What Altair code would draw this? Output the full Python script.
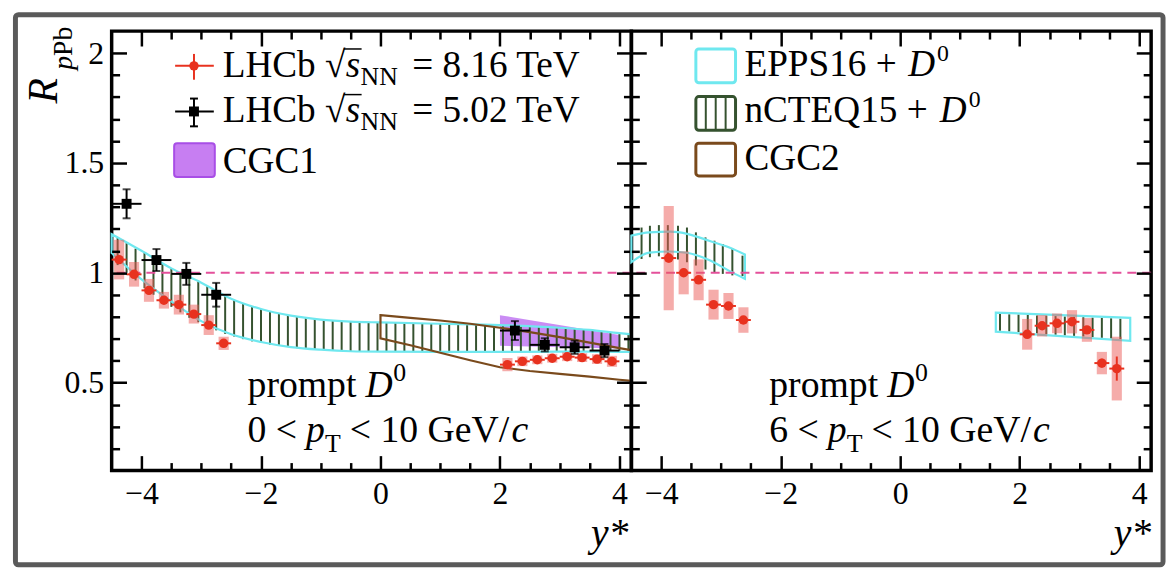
import altair as alt
import pandas as pd

FONT = "Liberation Serif"
XDOM = [-4.5, 4.2]
YDOM = [0.1, 2.1]
PW, PH = 524, 443

X_MAJOR = [-4, -2, 0, 2, 4]
X_MINOR = [-3.5, -3, -2.5, -1.5, -1, -0.5, 0.5, 1, 1.5, 2.5, 3, 3.5]
Y_MAJOR = [0.5, 1, 1.5, 2]
Y_MINOR = [0.2, 0.3, 0.4, 0.6, 0.7, 0.8, 0.9, 1.1, 1.2, 1.3, 1.4, 1.6, 1.7, 1.8, 1.9]

RED = "#e8321f"
BOX = "#ec5a55"
CYAN = "#6fe8ef"
GREEN = "#35522f"
BROWN = "#7a4a1c"
PURPLE = "#b866f0"
PINK = "#e4509b"
FRAME = "#5a5a5a"

RED_HALF = 0.125     # half bin width of 8.16 TeV points
BLK_HALF = 0.25      # half bin width of 5.02 TeV points

# ---------------- panel A : 0 < pT < 10 GeV/c ----------------
A_red_x = [-4.375, -4.125, -3.875, -3.625, -3.375, -3.125, -2.875, -2.625,
           2.125, 2.375, 2.625, 2.875, 3.125, 3.375, 3.625, 3.875]
A_red_y = [1.060, 0.993, 0.920, 0.875, 0.855, 0.812, 0.762, 0.679,
           0.582, 0.597, 0.604, 0.611, 0.618, 0.614, 0.607, 0.597]
A_red_sys = [0.090, 0.056, 0.052, 0.038, 0.045, 0.043, 0.045, 0.030,
             0.030, 0.022, 0.020, 0.020, 0.020, 0.020, 0.022, 0.025]
A_red_stat = [0.015, 0.012, 0.012, 0.012, 0.012, 0.012, 0.012, 0.012,
              0.010, 0.010, 0.010, 0.010, 0.010, 0.010, 0.010, 0.010]
A_blk_x = [-4.25, -3.75, -3.25, -2.75, 2.25, 2.75, 3.25, 3.75]
A_blk_y = [1.314, 1.058, 0.995, 0.900, 0.737, 0.672, 0.661, 0.646]
A_blk_err = [0.066, 0.050, 0.050, 0.054, 0.043, 0.030, 0.030, 0.030]

A_epps_x = [-4.5, -4.0, -3.5, -3.0, -2.5, -2.0, -1.5, -1.0, -0.5, 0.0, 1.0, 2.0, 3.0, 3.5, 4.0, 4.2]
A_epps_hi = [1.176, 1.100, 1.020, 0.955, 0.882, 0.835, 0.805, 0.787, 0.778, 0.774, 0.768, 0.762, 0.750, 0.740, 0.725, 0.720]
A_epps_lo = [1.090, 0.970, 0.870, 0.780, 0.720, 0.685, 0.662, 0.650, 0.643, 0.641, 0.640, 0.640, 0.641, 0.641, 0.640, 0.640]

A_ncteq_x = [-4.4, -4.25, -4.1, -3.95, -3.8, -3.65, -3.5, -3.35, -3.2, -3.05,
             -2.9, -2.75, -2.6, -2.45, -2.3, -2.15, -2.0, -1.85, -1.7, -1.55,
             -1.4, -1.25, -1.1, -0.95, -0.8, -0.65, -0.5, -0.35, -0.2, -0.05,
             0.1, 0.25, 0.4, 0.55, 0.7, 0.85, 1.0, 1.15, 1.3, 1.45,
             1.6, 1.75, 1.9, 2.05, 2.2, 2.35, 2.5, 2.65, 2.8, 2.95,
             3.1, 3.25, 3.4, 3.55, 3.7, 3.85, 4.0, 4.15]
A_ncteq_hi = [1.160, 1.135, 1.110, 1.090, 1.065, 1.040, 1.020, 1.000, 0.980, 0.960,
              0.940, 0.918, 0.895, 0.877, 0.862, 0.848, 0.835, 0.825, 0.816, 0.808,
              0.801, 0.795, 0.790, 0.786, 0.783, 0.780, 0.778, 0.777, 0.775, 0.774,
              0.773, 0.772, 0.772, 0.771, 0.770, 0.770, 0.769, 0.768, 0.767, 0.766,
              0.765, 0.764, 0.763, 0.762, 0.760, 0.758, 0.756, 0.754, 0.752, 0.750,
              0.748, 0.745, 0.742, 0.739, 0.735, 0.730, 0.725, 0.721]
A_ncteq_lo = [1.035, 1.000, 0.965, 0.930, 0.900, 0.870, 0.845, 0.820, 0.795, 0.775,
              0.755, 0.738, 0.722, 0.710, 0.698, 0.688, 0.680, 0.673, 0.667, 0.662,
              0.657, 0.653, 0.650, 0.648, 0.646, 0.644, 0.643, 0.642, 0.642, 0.641,
              0.641, 0.640, 0.640, 0.640, 0.640, 0.640, 0.640, 0.640, 0.640, 0.640,
              0.640, 0.640, 0.640, 0.640, 0.640, 0.640, 0.640, 0.640, 0.640, 0.640,
              0.640, 0.640, 0.640, 0.640, 0.640, 0.640, 0.640, 0.640]

A_cgc1_x = [2.0, 4.0]
A_cgc1_hi = [0.807, 0.717]
A_cgc1_lo = [0.668, 0.655]

A_cgc2_x = [0.0, 0.5, 1.0, 1.5, 2.0, 2.5, 3.0, 3.5, 4.0, 4.2]
A_cgc2_hi = [0.807, 0.795, 0.783, 0.768, 0.750, 0.730, 0.707, 0.682, 0.657, 0.648]
A_cgc2_lo = [0.702, 0.670, 0.636, 0.602, 0.570, 0.553, 0.540, 0.527, 0.513, 0.508]

# ---------------- panel B : 6 < pT < 10 GeV/c ----------------
B_red_x = [-3.875, -3.625, -3.375, -3.125, -2.875, -2.625,
           2.125, 2.375, 2.625, 2.875, 3.125, 3.375, 3.625]
B_red_y = [1.067, 1.000, 0.968, 0.855, 0.849, 0.785,
           0.720, 0.759, 0.770, 0.777, 0.740, 0.589, 0.564]
B_red_sys = [0.237, 0.098, 0.093, 0.068, 0.059, 0.058,
             0.070, 0.049, 0.045, 0.053, 0.054, 0.051, 0.145]
B_red_stat = [0.020, 0.015, 0.015, 0.015, 0.015, 0.015,
              0.015, 0.012, 0.012, 0.012, 0.015, 0.020, 0.055]

B_epps_bwd_x = [-4.5, -4.2, -3.85, -3.55, -3.2, -2.87, -2.6]
B_epps_bwd_hi = [1.169, 1.184, 1.187, 1.176, 1.146, 1.116, 1.083]
B_epps_bwd_lo = [1.048, 1.092, 1.097, 1.090, 1.058, 1.010, 0.973]
B_epps_fwd_x = [1.6, 3.85]
B_epps_fwd_hi = [0.819, 0.795]
B_epps_fwd_lo = [0.732, 0.690]

B_ncteq_x = [-4.33, -4.19, -4.04, -3.89, -3.72, -3.57, -3.42, -3.26, -3.11, -2.97, -2.81, -2.64,
             1.67, 1.825, 1.98, 2.135, 2.29, 2.445, 2.6, 2.755, 2.91, 3.065, 3.22, 3.375, 3.53, 3.685]
B_ncteq_hi = [1.206, 1.214, 1.217, 1.217, 1.214, 1.206, 1.184, 1.161, 1.146, 1.131, 1.111, 1.078,
              0.813, 0.811, 0.810, 0.808, 0.806, 0.805, 0.803, 0.801, 0.800, 0.798, 0.796, 0.795, 0.793, 0.791]
B_ncteq_lo = [1.063, 1.071, 1.075, 1.071, 1.060, 1.048, 1.033, 1.015, 1.003, 0.995, 0.988, 0.985,
              0.736, 0.733, 0.730, 0.727, 0.724, 0.721, 0.718, 0.715, 0.713, 0.710, 0.707, 0.704, 0.701, 0.698]

REF_LINE = [1.0]

XS = alt.Scale(domain=XDOM, nice=False, zero=False)
YS = alt.Scale(domain=YDOM, nice=False, zero=False)
one = pd.DataFrame({"a": [0]})


def X(f):
    return alt.X(f, type="quantitative", scale=XS, axis=None)


def Y(f):
    return alt.Y(f, type="quantitative", scale=YS, axis=None)


def axis_layers(ylabels):
    d = pd.DataFrame({"x": XDOM, "y": YDOM})
    common = dict(grid=False, domain=False, title=None, tickColor="black", tickWidth=2.5,
                  labelFont=FONT, labelColor="black", labelFontSize=32, format="~g",
                  labelPadding=8, zindex=1)
    out = []
    for ox, oy, vx, vy, ts, lx, ly in [
        ("bottom", "left", X_MAJOR, Y_MAJOR, 15, True, ylabels),
        ("bottom", "left", X_MINOR, Y_MINOR, 8, False, False),
        ("top", "right", X_MAJOR, Y_MAJOR, 15, False, False),
        ("top", "right", X_MINOR, Y_MINOR, 8, False, False),
    ]:
        ax = alt.Axis(orient=ox, values=vx, tickSize=ts, offset=-ts, labels=lx, **common)
        ay = alt.Axis(orient=oy, values=vy, tickSize=ts, offset=-ts, labels=ly, **common)
        out.append(alt.Chart(d).mark_point(opacity=0).encode(
            x=alt.X("x:Q", scale=XS, axis=ax), y=alt.Y("y:Q", scale=YS, axis=ay)))
    return out


def txt(x, y, s, size, italic=False, align="left", angle=0):
    kw = dict(text=s, font=FONT, fontSize=size, align=align, baseline="alphabetic", color="black")
    if italic:
        kw["fontStyle"] = "italic"
    if angle:
        kw["angle"] = angle
    return alt.Chart(one).mark_text(**kw).encode(x=alt.value(x), y=alt.value(y))


def prule(x1, x2, y1, y2, color, w=2.0):
    return alt.Chart(one).mark_rule(color=color, strokeWidth=w).encode(
        x=alt.value(x1), x2=alt.value(x2), y=alt.value(y1), y2=alt.value(y2))


def pbox(x1, x2, y1, y2, stroke, fill=None, w=3):
    kw = dict(stroke=stroke, strokeWidth=w, cornerRadius=3)
    if fill:
        kw["fill"] = fill
    else:
        kw["fillOpacity"] = 0
    return alt.Chart(one).mark_rect(**kw).encode(
        x=alt.value(x1), x2=alt.value(x2), y=alt.value(y1), y2=alt.value(y2))


def band_outline(xv, hi, lo, color, interp="monotone"):
    d = pd.DataFrame({"x": xv, "hi": hi, "lo": lo})
    return alt.Chart(d).mark_area(fillOpacity=0, stroke=color, strokeWidth=2.2, interpolate=interp).encode(
        x=X("x"), y=Y("hi"), y2="lo")


def hatch(xv, hi, lo):
    d = pd.DataFrame({"x": xv, "hi": hi, "lo": lo})
    return alt.Chart(d).mark_rule(color=GREEN, strokeWidth=2).encode(x=X("x"), y=Y("hi"), y2="lo")


def red_points(xv, yv, sys, stat):
    d = pd.DataFrame({"x": xv, "y": yv, "sys": sys, "stat": stat})
    d["xl"] = d["x"] - 0.085
    d["xr"] = d["x"] + 0.085
    d["slo"] = d["y"] - d["sys"]
    d["shi"] = d["y"] + d["sys"]
    d["elo"] = d["y"] - d["stat"]
    d["ehi"] = d["y"] + d["stat"]
    d["bl"] = d["x"] - RED_HALF
    d["br"] = d["x"] + RED_HALF
    base = alt.Chart(d)
    return [
        base.mark_rect(color=BOX, opacity=0.5).encode(x=X("xl"), x2="xr", y=Y("slo"), y2="shi"),
        base.mark_rule(color=RED, strokeWidth=2).encode(x=X("bl"), x2="br", y=Y("y")),
        base.mark_rule(color=RED, strokeWidth=2).encode(x=X("x"), y=Y("elo"), y2="ehi"),
        base.mark_circle(color=RED, size=90, opacity=1).encode(x=X("x"), y=Y("y")),
    ]


def black_points(xv, yv, err):
    d = pd.DataFrame({"x": xv, "y": yv, "err": err})
    d["elo"] = d["y"] - d["err"]
    d["ehi"] = d["y"] + d["err"]
    d["bl"] = d["x"] - BLK_HALF
    d["br"] = d["x"] + BLK_HALF
    base = alt.Chart(d)
    return [
        base.mark_rule(color="black", strokeWidth=2).encode(x=X("bl"), x2="br", y=Y("y")),
        base.mark_rule(color="black", strokeWidth=2).encode(x=X("x"), y=Y("elo"), y2="ehi"),
        base.mark_tick(color="black", orient="horizontal", size=8, thickness=2).encode(x=X("x"), y=Y("elo")),
        base.mark_tick(color="black", orient="horizontal", size=8, thickness=2).encode(x=X("x"), y=Y("ehi")),
        base.mark_square(color="black", size=100, opacity=1).encode(x=X("x"), y=Y("y")),
    ]


def ref_line():
    d = pd.DataFrame({"y": REF_LINE})
    return alt.Chart(d).mark_rule(color=PINK, strokeDash=[9, 6], strokeWidth=2).encode(y=Y("y"))


LEG = 37.5
ANN = 38
SUB = 26

# ---------------- left panel ----------------
cgc1 = pd.DataFrame({"x": A_cgc1_x, "hi": A_cgc1_hi, "lo": A_cgc1_lo})
left_layers = []
left_layers += axis_layers(True)
left_layers.append(alt.Chart(cgc1).mark_area(color=PURPLE, opacity=0.75).encode(x=X("x"), y=Y("hi"), y2="lo"))
left_layers.append(hatch(A_ncteq_x, A_ncteq_hi, A_ncteq_lo))
left_layers.append(band_outline(A_epps_x, A_epps_hi, A_epps_lo, CYAN))
left_layers.append(band_outline(A_cgc2_x, A_cgc2_hi, A_cgc2_lo, BROWN, "linear"))
left_layers.append(ref_line())
left_layers += red_points(A_red_x, A_red_y, A_red_sys, A_red_stat)
left_layers += black_points(A_blk_x, A_blk_y, A_blk_err)

# legend (left)
left_layers += [
    prule(64, 103, 35, 35, RED), prule(83, 83, 23, 49, RED),
    alt.Chart(one).mark_circle(color=RED, size=90, opacity=1).encode(x=alt.value(83), y=alt.value(35)),
    prule(64, 103, 81, 81, "black"), prule(83, 83, 68, 96, "black"),
    prule(79, 87, 68, 68, "black"), prule(79, 87, 96, 96, "black"),
    alt.Chart(one).mark_square(color="black", size=100, opacity=1).encode(x=alt.value(83), y=alt.value(81)),
    pbox(63, 104, 113, 147, "#a84ee6", "#c77ef2", 2),
    txt(112, 46, "LHCb", LEG), txt(215, 46, "\u221a", LEG), txt(236, 46, "s", LEG, italic=True),
    prule(234, 252, 18, 18, "black", 1.5),
    txt(251, 54, "NN", SUB), txt(303, 46, "= 8.16 TeV", LEG),
    txt(112, 92, "LHCb", LEG), txt(215, 92, "\u221a", LEG), txt(236, 92, "s", LEG, italic=True),
    prule(234, 252, 64, 64, "black", 1.5),
    txt(251, 100, "NN", SUB), txt(303, 92, "= 5.02 TeV", LEG),
    txt(112, 143, "CGC1", LEG),
]
# annotation (left)
left_layers += [
    txt(137, 369, "prompt", ANN), txt(256, 369, "D", ANN, italic=True), txt(284, 353, "0", SUB),
    txt(137, 414, "0 <", ANN), txt(196, 414, "p", ANN, italic=True), txt(215, 424, "T", SUB),
    txt(240, 414, "< 10 GeV/", ANN), txt(403, 414, "c", ANN, italic=True),
    txt(-55, 73, "R", 42, italic=True, angle=270),
    txt(-40, 39, "p", 28, italic=True, angle=270),
    txt(-40, 25, "Pb", 28, angle=270),
    txt(521, 519, "y*", 40, italic=True, align="right"),
    pbox(-97, 1060, -16.5, 538, FRAME, None, 5),
]

left = alt.layer(*left_layers).resolve_scale(x="shared", y="shared").resolve_axis(
    x="independent", y="independent").properties(width=PW, height=PH)

# ---------------- right panel ----------------
right_layers = []
right_layers += axis_layers(False)
right_layers.append(hatch(B_ncteq_x, B_ncteq_hi, B_ncteq_lo))
right_layers.append(band_outline(B_epps_bwd_x, B_epps_bwd_hi, B_epps_bwd_lo, CYAN))
right_layers.append(band_outline(B_epps_fwd_x, B_epps_fwd_hi, B_epps_fwd_lo, CYAN, "linear"))
right_layers.append(ref_line())
right_layers += red_points(B_red_x, B_red_y, B_red_sys, B_red_stat)
right_layers += [
    pbox(65, 105, 18, 52, CYAN),
    pbox(65, 105, 66, 100, GREEN),
    prule(75, 75, 66, 100, GREEN), prule(85, 85, 66, 100, GREEN), prule(95, 95, 66, 100, GREEN),
    pbox(65, 105, 113, 146, BROWN),
    txt(114, 45, "EPPS16 +", LEG), txt(279, 45, "D", LEG, italic=True), txt(308, 30, "0", 24),
    txt(114, 92, "nCTEQ15 +", LEG), txt(311, 92, "D", LEG, italic=True), txt(340, 77, "0", 24),
    txt(114, 140, "CGC2", LEG),
    txt(139, 369, "prompt", ANN), txt(258, 369, "D", ANN, italic=True), txt(286, 353, "0", SUB),
    txt(139, 414, "6 <", ANN), txt(198, 414, "p", ANN, italic=True), txt(217, 424, "T", SUB),
    txt(242, 414, "< 10 GeV/", ANN), txt(405, 414, "c", ANN, italic=True),
    txt(524, 519, "y*", 40, italic=True, align="right"),
]
right = alt.layer(*right_layers).resolve_scale(x="shared", y="shared").resolve_axis(
    x="independent", y="independent").properties(width=PW, height=PH)

chart = alt.hconcat(left, right, spacing=0, bounds="flush").properties(
    padding={"left": 2.5, "top": 0, "right": 0, "bottom": 0},
    background="white",
).configure(font=FONT).configure_view(stroke="black", strokeWidth=3.5)

chart.save("out.html", embed_options={"renderer": "svg", "actions": False})
